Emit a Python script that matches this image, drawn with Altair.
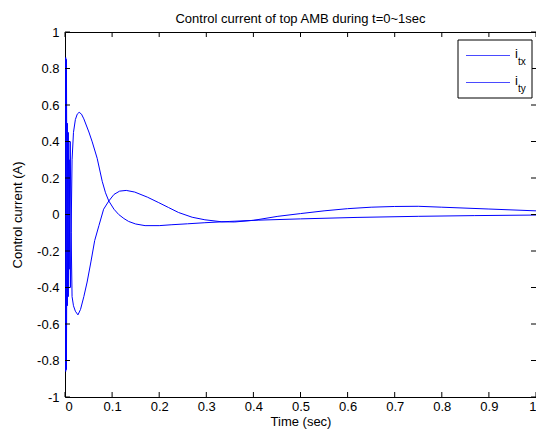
import altair as alt
import pandas as pd

# ---- data ----
t_tx = [0.0, 0.0015, 0.003, 0.005, 0.007, 0.009, 0.0115, 0.013, 0.015, 0.018,
        0.022, 0.026, 0.030, 0.035, 0.040, 0.0507, 0.0578, 0.0683, 0.079, 0.086, 0.093, 0.104,
        0.114, 0.125, 0.135, 0.150, 0.170, 0.200, 0.227, 0.260, 0.297, 0.350, 0.410, 0.500,
        0.620, 0.750, 0.870, 1.000]
i_tx = [0.0, 0.86, -0.85, 0.50, -0.45, 0.30, -0.40, -0.10, 0.30, 0.45,
        0.52, 0.55, 0.56, 0.55, 0.524, 0.452, 0.398, 0.308, 0.182, 0.119, 0.074, 0.029,
        0.0, -0.022, -0.038, -0.052, -0.061, -0.061, -0.056, -0.051, -0.045, -0.038, -0.031, -0.024,
        -0.016, -0.010, -0.006, -0.003]

t_ty = [0.0, 0.0015, 0.003, 0.005, 0.007, 0.009, 0.011, 0.013, 0.015, 0.018, 0.022,
        0.0275, 0.033, 0.040, 0.047, 0.055, 0.063, 0.072, 0.082, 0.093, 0.104, 0.116, 0.130,
        0.148, 0.175, 0.199, 0.220, 0.241, 0.270, 0.297, 0.333, 0.360, 0.400, 0.452, 0.500,
        0.550, 0.600, 0.650, 0.700, 0.750, 0.800, 0.900, 1.000]
i_ty = [0.0, -0.86, 0.85, -0.50, 0.45, -0.30, 0.40, -0.10, -0.45, -0.50, -0.53,
        -0.55, -0.52, -0.45, -0.37, -0.26, -0.143, -0.061, 0.029, 0.074, 0.11, 0.128, 0.132,
        0.123, 0.095, 0.065, 0.038, 0.011, -0.015, -0.029, -0.040, -0.041, -0.032, -0.010, 0.005,
        0.020, 0.032, 0.040, 0.044, 0.045, 0.040, 0.030, 0.020]

x_ticks = [0.0, 0.1, 0.2, 0.3, 0.4, 0.5, 0.6, 0.7, 0.8, 0.9, 1.0]
y_ticks = [-1.0, -0.8, -0.6, -0.4, -0.2, 0.0, 0.2, 0.4, 0.6, 0.8, 1.0]

series_names = ["i_tx", "i_ty"]
legend_sub = ["tx", "ty"]

W, H = 471, 365
FONT = "Liberation Sans"
BLUE = "#0000ff"
LEG_BLUE = "#4a4aff"

df_tx = pd.DataFrame({"t": t_tx, "i": i_tx, "series": series_names[0]})
df_ty = pd.DataFrame({"t": t_ty, "i": i_ty, "series": series_names[1]})
df = pd.concat([df_tx, df_ty], ignore_index=True)

xscale = alt.Scale(domain=[0, 1], nice=False, zero=False)
yscale = alt.Scale(domain=[-1, 1], nice=False, zero=False)

label_expr = "'' + round(datum.value*10)/10"
xaxis = alt.Axis(values=x_ticks, title="Time (sec)", labelExpr=label_expr,
                 tickSize=0, labelPadding=3, titlePadding=2, labelOverlap=False)
yaxis = alt.Axis(values=y_ticks, title="Control current (A)", labelExpr=label_expr,
                 tickSize=0, labelPadding=6, titlePadding=12, labelOverlap=False)

lines = alt.Chart(df).mark_line(color=BLUE, strokeWidth=1, clip=True).encode(
    x=alt.X("t:Q", scale=xscale, axis=xaxis),
    y=alt.Y("i:Q", scale=yscale, axis=yaxis),
    detail="series:N",
    order="t:Q",
)

xt = pd.DataFrame({"v": x_ticks})
yt = pd.DataFrame({"v": y_ticks})
TL = 5
xtick_bot = alt.Chart(xt).mark_rule(color="black", strokeWidth=1).encode(
    x=alt.X("v:Q", scale=xscale, axis=xaxis), y=alt.value(H), y2=alt.value(H - TL))
xtick_top = alt.Chart(xt).mark_rule(color="black", strokeWidth=1).encode(
    x=alt.X("v:Q", scale=xscale, axis=xaxis), y=alt.value(0), y2=alt.value(TL))
ytick_left = alt.Chart(yt).mark_rule(color="black", strokeWidth=1).encode(
    y=alt.Y("v:Q", scale=yscale, axis=yaxis), x=alt.value(0), x2=alt.value(TL))
ytick_right = alt.Chart(yt).mark_rule(color="black", strokeWidth=1).encode(
    y=alt.Y("v:Q", scale=yscale, axis=yaxis), x=alt.value(W), x2=alt.value(W - TL))

# ---- legend box (manual, to get subscripts) ----
leg_df = pd.DataFrame({"series": series_names, "sub": legend_sub})
LX0, LX1 = W - 78, W - 4
LY0, LSTEP = 23, 27
legend_box = alt.Chart(pd.DataFrame({"box": [1]})).mark_rect(
    fill="white", stroke="black", strokeWidth=1).encode(
    x=alt.value(LX0), x2=alt.value(LX1), y=alt.value(8), y2=alt.value(66))

leg_base = alt.Chart(leg_df).transform_window(
    idx="row_number()"
).transform_calculate(
    ly=f"{LY0} + {LSTEP} * (datum.idx - 1)",
    ly2=f"{LY0 + 1} + {LSTEP} * (datum.idx - 1)",
    ly_i=f"{LY0 - 1.5} + {LSTEP} * (datum.idx - 1)",
    ly_s=f"{LY0 + 6.5} + {LSTEP} * (datum.idx - 1)",
)
legend_lines = leg_base.mark_rect(fill=LEG_BLUE, strokeWidth=0).encode(
    x=alt.value(LX0 + 8), x2=alt.value(LX0 + 52),
    y=alt.Y("ly:Q", scale=None), y2="ly2:Q",
)
legend_i = leg_base.mark_text(
    text="i", font=FONT, fontSize=13, align="left", baseline="middle", color="black").encode(
    x=alt.value(LX0 + 57), y=alt.Y("ly_i:Q", scale=None))
legend_sub_t = leg_base.mark_text(
    font=FONT, fontSize=10, align="left", baseline="middle", color="black").encode(
    text="sub:N", x=alt.value(LX0 + 60), y=alt.Y("ly_s:Q", scale=None))

chart = alt.layer(
    lines, xtick_bot, xtick_top, ytick_left, ytick_right,
    legend_box, legend_lines, legend_i, legend_sub_t
).properties(
    width=W, height=H,
    title=alt.TitleParams("Control current of top AMB during t=0~1sec",
                          font=FONT, fontSize=13, fontWeight="normal", color="black",
                          offset=0),
    autosize=alt.AutoSizeParams(type="none"),
    padding={"left": 57, "top": 24, "right": 0, "bottom": 32},
).configure_view(
    stroke="black", strokeWidth=1,
).configure_axis(
    grid=False, domain=False, labelOverlap=False,
    labelFont=FONT, labelFontSize=13, labelColor="black",
    titleFont=FONT, titleFontSize=13, titleFontWeight="normal", titleColor="black",
)

chart.save("out.html", embed_options={"renderer": "svg", "actions": False})
